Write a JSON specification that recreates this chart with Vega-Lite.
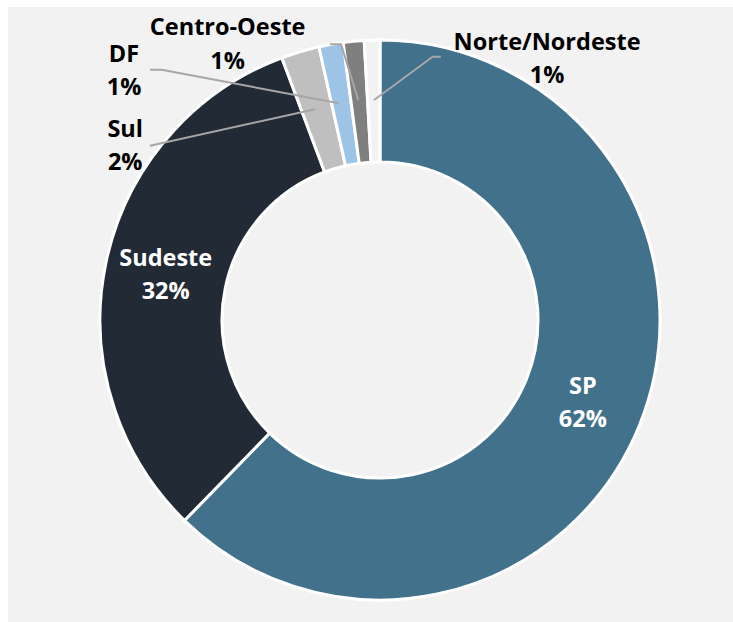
{
  "$schema": "https://vega.github.io/schema/vega-lite/v6.json",
  "width": 725,
  "height": 615,
  "autosize": "none",
  "padding": {"left": 8, "top": 7, "right": 0, "bottom": 0},
  "background": "#ffffff",
  "config": {"view": {"stroke": null}, "text": {"font": "Open Sans", "fontWeight": "bold", "fontSize": 23.5, "baseline": "middle", "align": "center"}},
  "data": {
    "values": [
      {"region": "SP", "share": 0.623},
      {"region": "Sudeste", "share": 0.32},
      {"region": "Sul", "share": 0.022},
      {"region": "DF", "share": 0.014},
      {"region": "Centro-Oeste", "share": 0.012},
      {"region": "Norte/Nordeste", "share": 0.009}
    ]
  },
  "layer": [
    {
      "data": {"values": [{}]},
      "mark": {"type": "rect", "color": "#f2f2f2", "opacity": 1},
      "encoding": {}
    },
    {
      "encoding": {
        "theta": {"field": "share", "type": "quantitative", "stack": true},
        "order": {"field": "share", "type": "quantitative", "sort": "descending"}
      },
      "layer": [
        {
          "mark": {"type": "arc", "outerRadius": 280, "innerRadius": 158, "stroke": "#ffffff", "strokeWidth": 3, "xOffset": 9.5, "yOffset": 5.5},
          "encoding": {
            "color": {
              "field": "region",
              "type": "nominal",
              "scale": {
                "domain": ["SP", "Sudeste", "Sul", "DF", "Centro-Oeste", "Norte/Nordeste"],
                "range": ["#41718b", "#222a36", "#bfbfbf", "#9dc3e6", "#7f7f7f", "#f2f2f2"]
              },
              "legend": null
            }
          }
        },
        {
          "mark": {"type": "text", "radius": 219, "xOffset": 9.5, "yOffset": 5.5, "dy": -16, "color": "#ffffff"},
          "encoding": {"text": {"condition": {"test": "datum.region === 'SP' || datum.region === 'Sudeste'", "field": "region", "type": "nominal"}, "value": ""}}
        },
        {
          "mark": {"type": "text", "radius": 219, "xOffset": 9.5, "yOffset": 5.5, "dy": 17, "color": "#ffffff"},
          "encoding": {"text": {"condition": {"test": "datum.region === 'SP' || datum.region === 'Sudeste'", "field": "share", "type": "quantitative", "format": ".0%"}, "value": ""}}
        },
        {
          "mark": {"type": "text", "radius": 280, "xOffset": 9.5, "yOffset": 5.5, "dx": -175, "dy": 78, "color": "#000000"},
          "encoding": {"text": {"condition": {"test": "datum.region === 'Sul'", "field": "region", "type": "nominal"}, "value": ""}}
        },
        {
          "mark": {"type": "text", "radius": 280, "xOffset": 9.5, "yOffset": 5.5, "dx": -175, "dy": 111, "color": "#000000"},
          "encoding": {"text": {"condition": {"test": "datum.region === 'Sul'", "field": "share", "type": "quantitative", "format": ".0%"}, "value": ""}}
        },
        {
          "mark": {"type": "text", "radius": 280, "xOffset": 9.5, "yOffset": 5.5, "dx": -207, "dy": 11, "color": "#000000"},
          "encoding": {"text": {"condition": {"test": "datum.region === 'DF'", "field": "region", "type": "nominal"}, "value": ""}}
        },
        {
          "mark": {"type": "text", "radius": 280, "xOffset": 9.5, "yOffset": 5.5, "dx": -207, "dy": 44, "color": "#000000"},
          "encoding": {"text": {"condition": {"test": "datum.region === 'DF'", "field": "share", "type": "quantitative", "format": ".0%"}, "value": ""}}
        },
        {
          "mark": {"type": "text", "radius": 280, "xOffset": 9.5, "yOffset": 5.5, "dx": -126, "dy": -13, "color": "#000000"},
          "encoding": {"text": {"condition": {"test": "datum.region === 'Centro-Oeste'", "field": "region", "type": "nominal"}, "value": ""}}
        },
        {
          "mark": {"type": "text", "radius": 280, "xOffset": 9.5, "yOffset": 5.5, "dx": -126, "dy": 21, "color": "#000000"},
          "encoding": {"text": {"condition": {"test": "datum.region === 'Centro-Oeste'", "field": "share", "type": "quantitative", "format": ".0%"}, "value": ""}}
        },
        {
          "mark": {"type": "text", "radius": 280, "xOffset": 9.5, "yOffset": 5.5, "dx": 175, "dy": 3, "color": "#000000"},
          "encoding": {"text": {"condition": {"test": "datum.region === 'Norte/Nordeste'", "field": "region", "type": "nominal"}, "value": ""}}
        },
        {
          "mark": {"type": "text", "radius": 280, "xOffset": 9.5, "yOffset": 5.5, "dx": 175, "dy": 36, "color": "#000000"},
          "encoding": {"text": {"condition": {"test": "datum.region === 'Norte/Nordeste'", "field": "share", "type": "quantitative", "format": ".0%"}, "value": ""}}
        }
      ]
    },
    {
      "data": {"values": [{}]},
      "mark": {
        "type": "point",
        "shape": "M-0.8214,-0.6225L-0.2321,-0.7525M-0.8214,-0.8939L-0.7796,-0.8939L-0.1464,-0.7739M-0.1786,-0.9846L-0.1393,-0.9846L-0.0775,-0.7857M0.2168,-0.9404L0.1882,-0.9404L-0.0214,-0.7857",
        "size": 313600,
        "filled": false,
        "fillOpacity": 0,
        "stroke": "#a6a6a6",
        "strokeWidth": 2,
        "opacity": 1,
        "xOffset": 9.5,
        "yOffset": 5.5
      },
      "encoding": {}
    }
  ]
}
